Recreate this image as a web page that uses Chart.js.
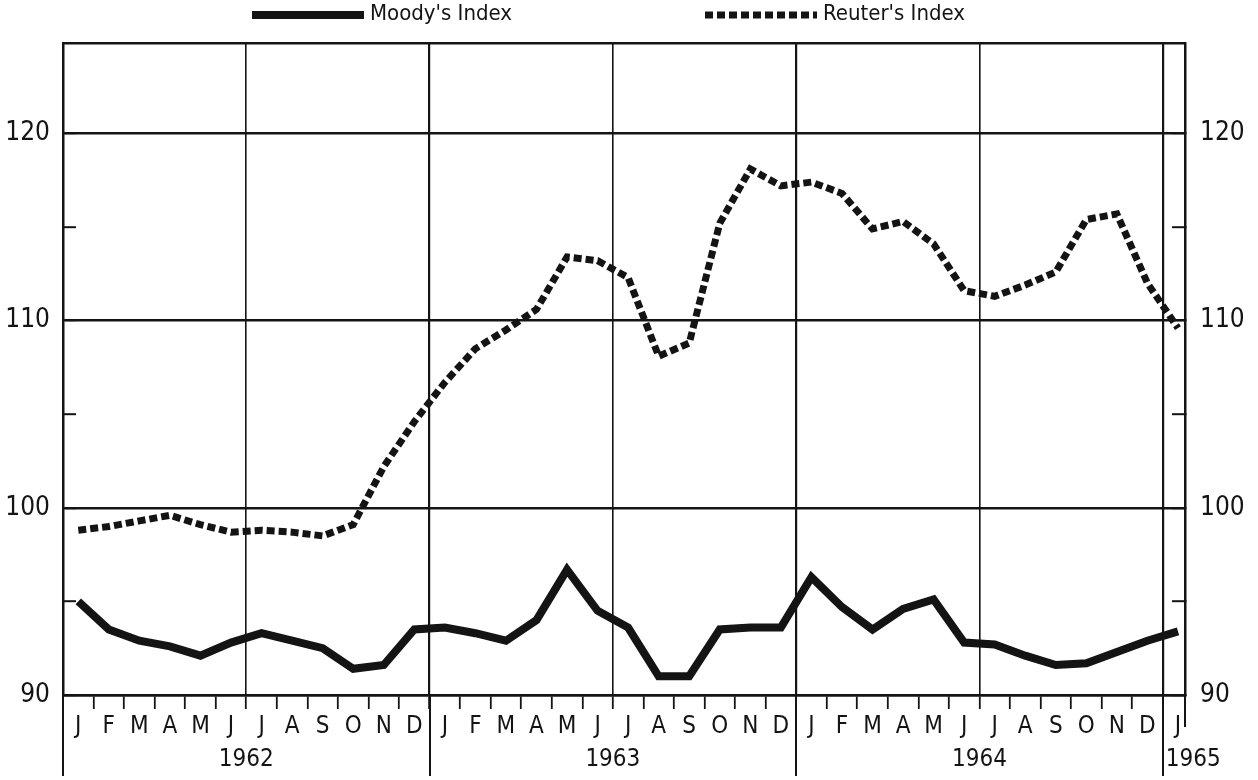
<!DOCTYPE html>
<html>
<head>
<meta charset="utf-8">
<script src="https://cdn.jsdelivr.net/npm/chart.js@4.4.1/dist/chart.umd.min.js"></script>
<style>
  html, body { margin: 0; padding: 0; background: #fff; }
  canvas { display: block; }
</style>
</head>
<body>
<canvas id="chart" width="1258" height="780"></canvas>
<script>
// Moody's and Reuter's commodity price indexes, monthly, Jan 1962 - Jan 1965
const MONTHS = ['J', 'F', 'M', 'A', 'M', 'J', 'J', 'A', 'S', 'O', 'N', 'D'];
const YEARS = ['1962', '1963', '1964', '1965'];
const monthLabels = [...MONTHS, ...MONTHS, ...MONTHS, 'J'];

const moodysIndex = [
  95.0, 93.5, 92.9, 92.6, 92.1, 92.8, 93.3, 92.9, 92.5, 91.4, 91.6, 93.5,
  93.6, 93.3, 92.9, 94.0, 96.7, 94.5, 93.6, 91.0, 91.0, 93.5, 93.6, 93.6,
  96.3, 94.7, 93.5, 94.6, 95.1, 92.8, 92.7, 92.1, 91.6, 91.7, 92.3, 92.9,
  93.4
];
const reutersIndex = [
  98.8, 99.0, 99.3, 99.6, 99.1, 98.7, 98.8, 98.7, 98.5, 99.1, 102.2, 104.6,
  106.7, 108.5, 109.5, 110.6, 113.4, 113.2, 112.3, 108.1, 108.8, 115.2, 118.1, 117.2,
  117.4, 116.8, 114.9, 115.3, 114.1, 111.6, 111.3, 111.9, 112.6, 115.4, 115.7, 112.0,
  109.6
];
const yTicks = [90, 95, 100, 105, 110, 115, 120];

const INK = '#141414';
const FONT = '"Liberation Sans Narrow", "DejaVu Sans Condensed", "Liberation Sans", sans-serif';
const X_MIN = -0.5, X_MAX = 36.23;
const LAST_YEAR_POS = 36.5; // "1965" sits in the short last column

Chart.defaults.font.family = FONT;
Chart.defaults.color = INK;

const isBoundary = v => Number.isInteger(v + 0.5) && v <= monthLabels.length - 1.5;
const isHalfYear = v => isBoundary(v) && (v + 0.5) % 6 === 0 && v > X_MIN;
const isYearEdge = v => isBoundary(v) && (v + 0.5) % 12 === 0;

// year boundaries run down through the month and year label rows
const yearLines = {
  id: 'yearLines',
  afterDraw(chart) {
    const {ctx, chartArea, scales: {x}} = chart;
    ctx.save();
    ctx.strokeStyle = INK;
    ctx.lineWidth = 2;
    for (let k = 0; k < YEARS.length; k++) {
      const px = Math.round(x.getPixelForValue(k * 12 - 0.5));
      ctx.beginPath();
      ctx.moveTo(px, chartArea.bottom);
      ctx.lineTo(px, chart.height - 4);
      ctx.stroke();
    }
    ctx.beginPath();
    ctx.moveTo(chartArea.right, chartArea.bottom);
    ctx.lineTo(chartArea.right, chartArea.bottom + 32);
    ctx.stroke();
    ctx.restore();
  }
};

// legend strip above the frame, samples use the dataset's own stroke
const topLegend = {
  id: 'topLegend',
  afterDraw(chart) {
    const {ctx} = chart;
    const slots = [252, 705];
    ctx.save();
    chart.data.datasets.forEach((ds, i) => {
      const x0 = slots[i], y0 = 15;
      ctx.strokeStyle = ds.borderColor;
      ctx.lineWidth = ds.borderWidth;
      ctx.setLineDash(ds.borderDash || []);
      ctx.beginPath();
      ctx.moveTo(x0, y0);
      ctx.lineTo(x0 + 112, y0);
      ctx.stroke();
      ctx.setLineDash([]);
      ctx.fillStyle = INK;
      ctx.font = '22px ' + FONT;
      ctx.textBaseline = 'middle';
      ctx.fillText(ds.label, x0 + 118, y0 - 1);
    });
    ctx.restore();
  }
};

const yAxis = (position, width, padding) => ({
  type: 'linear',
  position: position,
  min: 90,
  max: 124.8,
  afterBuildTicks: s => { s.ticks = yTicks.map(v => ({value: v})); },
  afterFit: s => { s.width = width; },
  grid: {
    drawOnChartArea: position === 'left',
    color: ctx => ctx.tick && ctx.tick.value % 10 === 0 ? INK : 'rgba(0,0,0,0)',
    lineWidth: 2.4,
    tickLength: -13,
    tickColor: INK,
    tickWidth: 2
  },
  border: {color: INK, width: 2.5},
  ticks: {
    padding: padding,
    color: INK,
    font: {size: 26},
    callback: v => (v % 10 === 0 ? String(v) : '')
  }
});

new Chart(document.getElementById('chart'), {
  type: 'line',
  data: {
    datasets: [
      {
        label: "Moody's Index",
        data: moodysIndex.map((v, i) => ({x: i, y: v})),
        borderColor: INK,
        borderWidth: 8,
        borderJoinStyle: 'miter',
        pointRadius: 0,
        tension: 0
      },
      {
        label: "Reuter's Index",
        data: reutersIndex.map((v, i) => ({x: i, y: v})),
        borderColor: INK,
        borderWidth: 7,
        borderDash: [8, 4],
        borderCapStyle: 'butt',
        pointRadius: 0,
        tension: 0
      }
    ]
  },
  options: {
    responsive: false,
    animation: false,
    layout: {padding: {top: 35, left: 0, right: 0, bottom: 0}},
    plugins: {
      legend: {display: false},
      tooltip: {enabled: false}
    },
    scales: {
      x: {
        type: 'linear',
        position: 'bottom',
        min: X_MIN,
        max: X_MAX,
        afterBuildTicks: s => {
          const t = [];
          monthLabels.forEach((m, i) => { t.push({value: i - 0.5}, {value: i}); });
          t.push({value: LAST_YEAR_POS});
          s.ticks = t.sort((a, b) => a.value - b.value);
        },
        afterFit: s => { s.height = 85; },
        grid: {
          color: ctx => ctx.tick && isHalfYear(ctx.tick.value) ? INK : 'rgba(0,0,0,0)',
          lineWidth: ctx => ctx.tick && isYearEdge(ctx.tick.value) ? 2.2 : 1.6,
          tickColor: ctx => ctx.tick && isBoundary(ctx.tick.value) ? INK : 'rgba(0,0,0,0)',
          tickWidth: 1.8,
          tickLength: 14
        },
        border: {color: INK, width: 2.5},
        ticks: {
          autoSkip: false,
          maxRotation: 0,
          padding: 2,
          color: INK,
          font: {size: 24, lineHeight: 1.35},
          callback: v => {
            if (Number.isInteger(v)) return monthLabels[v];
            if (v === LAST_YEAR_POS) return ['', YEARS[3]];
            if (isBoundary(v) && (v + 0.5) % 12 === 6) return ['', YEARS[(v + 0.5 - 6) / 12]];
            return '';
          }
        }
      },
      xTop: {
        type: 'linear',
        position: 'top',
        min: X_MIN,
        max: X_MAX,
        afterFit: s => { s.height = 0; },
        grid: {drawOnChartArea: false, drawTicks: false},
        border: {color: INK, width: 2.5},
        ticks: {display: false}
      },
      y: yAxis('left', 63, 26),
      y2: yAxis('right', 73, 28)
    }
  },
  plugins: [yearLines, topLegend]
});
</script>
</body>
</html>
